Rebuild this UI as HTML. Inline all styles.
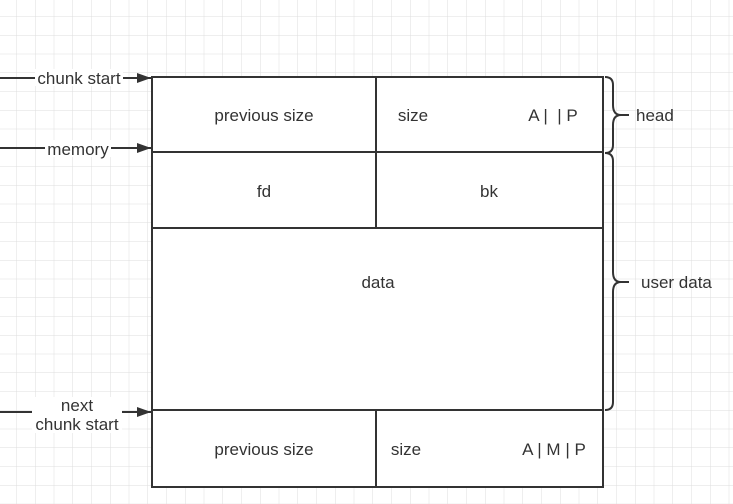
<!DOCTYPE html>
<html><head><meta charset="utf-8"><style>
html,body{margin:0;padding:0;background:#fff;}
svg{display:block;font-family:"Liberation Sans","Noto Sans CJK SC",sans-serif;}
</style></head><body>
<svg width="733" height="504" viewBox="0 0 733 504">
<defs>
<pattern id="grid" width="18.75" height="18.75" patternUnits="userSpaceOnUse" x="-2" y="-2">
<path d="M18.75 0V18.75M0 18.75H18.75" stroke="#dedede" stroke-width="1" fill="none"/>
</pattern>
<marker id="ah" markerWidth="14" markerHeight="10" refX="14" refY="5" orient="auto" markerUnits="userSpaceOnUse">
<path d="M0,0L14,5L0,10Z" fill="#333"/>
</marker>
</defs>
<rect width="733" height="504" fill="url(#grid)"/>
<g stroke="#333" stroke-width="2" fill="#fff">
<rect x="152" y="77" width="451" height="410"/>
<line x1="152" y1="152" x2="603" y2="152"/>
<line x1="152" y1="228" x2="603" y2="228"/>
<line x1="152" y1="410" x2="603" y2="410"/>
<line x1="376" y1="77" x2="376" y2="228"/>
<line x1="376" y1="410" x2="376" y2="487"/>
</g>
<g font-size="17" fill="#333" text-anchor="middle">
<text x="264" y="121">previous size</text>
<text x="413" y="121">size</text>
<text x="553" y="121">A |&#160;&#160;| P</text>
<text x="264" y="197">fd</text>
<text x="489" y="197">bk</text>
<text x="378" y="288">data</text>
<text x="264" y="455">previous size</text>
<text x="406" y="455">size</text>
<text x="554" y="455">A | M | P</text>
</g>
<g stroke="#333" stroke-width="2" fill="none">
<path d="M605,77 q8,0 8,8 v20 q0,10 8,10 h8 M621,115 q-8,0 -8,10 v20 q0,8 -8,8"/>
<path d="M605,153 q8,0 8,8 v111 q0,10 8,10 h8 M621,282 q-8,0 -8,10 v110 q0,8 -8,8"/>
</g>
<g font-size="17" fill="#333">
<text x="636" y="121">head</text>
<text x="641" y="288">user data</text>
</g>
<g stroke="#333" stroke-width="2">
<line x1="0" y1="78" x2="151" y2="78" marker-end="url(#ah)"/>
<line x1="0" y1="148" x2="151" y2="148" marker-end="url(#ah)"/>
<line x1="0" y1="412" x2="151" y2="412" marker-end="url(#ah)"/>
</g>
<g font-size="17" fill="#333" text-anchor="middle">
<rect x="35" y="69" width="88" height="17" fill="#fff"/>
<text x="79" y="84">chunk start</text>
<rect x="45" y="140" width="66" height="17" fill="#fff"/>
<text x="78" y="155">memory</text>
<rect x="32" y="397" width="90" height="36" fill="#fff"/>
<text x="77" y="411">next</text>
<text x="77" y="430">chunk start</text>
</g>
</svg>
</body></html>
